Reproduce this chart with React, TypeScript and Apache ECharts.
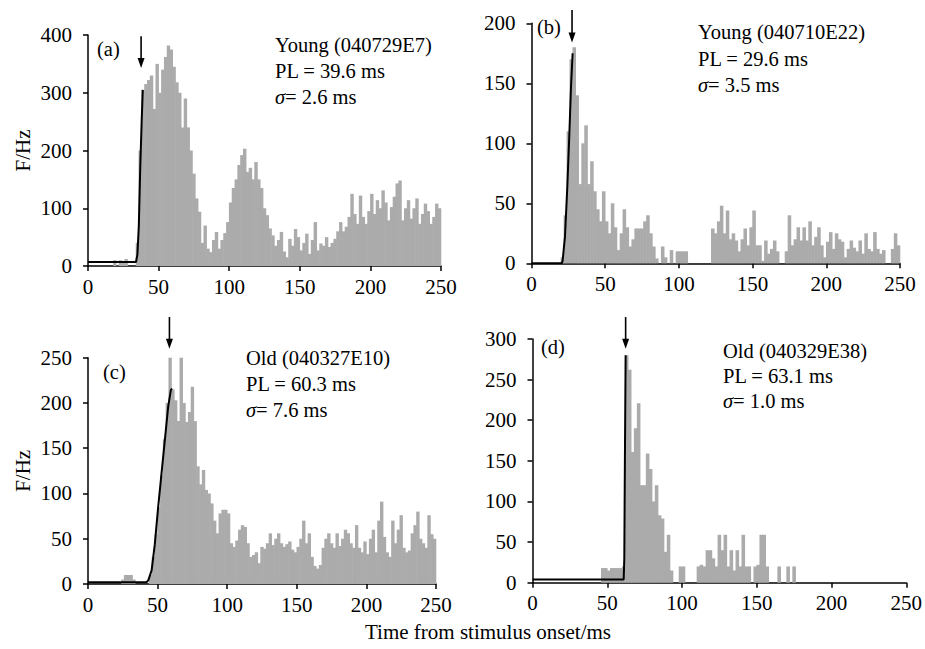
import { useEffect, useRef } from "react";
import * as echarts from "echarts";

const FONT = "Liberation Serif";
const BIN_MS = 2;
const X_MAX = 250;

// Histogram values (Hz), 2-ms bins starting at 0 ms
const histA = [
  0, 0, 0, 0, 0, 0, 0, 0, 0, 10,
  0, 10, 8, 12, 0, 0, 0, 40, 200, 305,
  315, 322, 330, 272, 350, 300, 340, 362, 382, 375,
  345, 318, 300, 240, 290, 240, 200, 160, 117, 94,
  40, 70, 30, 24, 45, 59, 30, 45, 57, 76,
  110, 135, 150, 175, 192, 203, 163, 170, 150, 180,
  150, 135, 100, 88, 65, 53, 35, 45, 59, 25,
  15, 47, 35, 64, 50, 27, 40, 56, 21, 45,
  76, 27, 39, 35, 50, 33, 40, 47, 60, 76,
  60, 68, 85, 125, 90, 73, 122, 85, 73, 95,
  125, 90, 114, 100, 131, 110, 79, 102, 120, 143,
  148, 79, 100, 114, 82, 100, 117, 73, 90, 108,
  95, 73, 85, 108, 100,
];
const histB = [
  0, 0, 0, 0, 0, 0, 0, 0, 0, 0,
  5, 40, 110, 170, 180, 140, 66, 100, 115, 66,
  85, 60, 45, 35, 60, 35, 25, 50, 30, 11,
  25, 45, 30, 14, 20, 29, 29, 29, 35, 40,
  25, 14, 4, 0, 14, 5, 0, 11, 0, 10,
  10, 10, 10, 0, 0, 0, 0, 0, 0, 0,
  0, 29, 25, 35, 48, 25, 44, 20, 25, 19,
  10, 20, 29, 15, 30, 44, 15, 15, 2, 19,
  8, 12, 19, 10, 0, 0, 10, 40, 15, 20,
  30, 19, 30, 19, 35, 15, 22, 30, 15, 5,
  18, 26, 12, 25, 20, 18, 5, 12, 19, 13,
  10, 19, 8, 25, 12, 10, 26, 12, 8, 11,
  0, 0, 12, 25, 15,
];
const histC = [
  0, 0, 0, 0, 0, 0, 0, 0, 0, 0,
  0, 0, 5, 10, 10, 10, 5, 0, 0, 0,
  0, 0, 10, 30, 55, 85, 120, 160, 200, 251,
  215, 203, 180, 251, 200, 179, 190, 218, 180, 130,
  110, 126, 104, 100, 89, 70, 56, 78, 82, 82,
  78, 45, 41, 48, 60, 65, 63, 45, 30, 32,
  35, 23, 41, 39, 45, 56, 43, 50, 56, 45,
  41, 44, 47, 38, 35, 41, 50, 70, 45, 56,
  30, 20, 17, 21, 40, 50, 56, 45, 40, 56,
  42, 50, 60, 56, 45, 40, 65, 40, 35, 47,
  33, 50, 60, 35, 70, 91, 52, 35, 30, 70,
  45, 60, 76, 40, 35, 37, 56, 65, 80, 50,
  45, 40, 76, 55, 50,
];
const histD = [
  0, 0, 0, 0, 0, 0, 0, 0, 0, 0,
  0, 0, 0, 0, 0, 0, 0, 0, 0, 0,
  0, 0, 0, 18, 18, 15, 18, 18, 18, 18,
  20, 280, 262, 161, 190, 221, 120, 120, 159, 140,
  100, 120, 83, 79, 38, 59, 15, 0, 0, 20,
  20, 0, 0, 0, 0, 20, 22, 20, 40, 40,
  30, 20, 59, 40, 59, 20, 40, 15, 40, 20,
  59, 20, 20, 0, 20, 22, 59, 59, 20, 0,
  0, 0, 20, 0, 0, 20, 0, 20, 0, 0,
  0, 0, 0, 0, 0, 0, 0, 0, 0, 0,
  0, 0, 0, 0, 0, 0, 0, 0, 0, 0,
  0, 0, 0, 0, 0, 0, 0, 0, 0, 0,
  0, 0, 0, 0, 0,
];

// Fitted onset curves [ms, Hz]
const curveA = [[0, 7], [34, 7], [35, 20], [36, 70], [37, 170], [38, 250], [38.8, 305]];
const curveB = [[0, 0], [20.5, 0], [21.1, 2], [22.7, 22], [24.3, 64], [25.6, 105], [26.8, 147], [27.9, 175]];
const curveC = [[0, 2], [42, 2], [43.3, 4], [45.7, 15], [48, 44], [50.4, 85], [52.8, 122], [55.2, 159], [57.6, 196], [59.5, 214], [60.3, 216]];
const curveD = [[0, 4], [61, 4], [61.4, 30], [61.8, 150], [62.3, 280]];

// Arrows: [ms, top Hz, tip Hz]
const arrowA = [37.6, 398, 343];
const arrowB = [27.5, 211, 184];
const arrowC = [58.5, 295, 260];
const arrowD = [62.3, 327, 288];

const yMaxes = [400, 200, 250, 300];
const yIntervals = [100, 50, 50, 50];
const xInterval = 50;

const panelLetters = ["(a)", "(b)", "(c)", "(d)"];
const groupLabels = ["Young (040729E7)", "Young (040710E22)", "Old (040327E10)", "Old (040329E38)"];
const plLabels = ["PL = 39.6 ms", "PL = 29.6 ms", "PL = 60.3 ms", "PL = 63.1 ms"];
const sigmaLabels = ["2.6 ms", "3.5 ms", "7.6 ms", "1.0 ms"];
const yTitle = "F/Hz";
const xTitle = "Time from stimulus onset/ms";

const hists = [histA, histB, histC, histD];
const curves = [curveA, curveB, curveC, curveD];
const arrows = [arrowA, arrowB, arrowC, arrowD];

// Layout (pixels)
const gridBoxes = [
  { left: 88, top: 35, width: 353, height: 231 },
  { left: 531.5, top: 23.3, width: 368.5, height: 240 },
  { left: 88, top: 357.7, width: 348, height: 226.3 },
  { left: 532.5, top: 339, width: 374, height: 243.7 },
];
const letterPos = [[97, 49], [537, 27], [103, 372], [541, 347]];
const annotPos = [[275, 45], [698, 32], [246, 358], [723, 351]];
const annotStep = [26, 26.5, 26, 25];

export default function App() {
  const ref = useRef<HTMLDivElement>(null);

  useEffect(() => {
    if (!ref.current) return;
    const chart = echarts.init(ref.current, undefined, { renderer: "svg" });

    const axisLine = { show: true, onZero: false, lineStyle: { color: "#000", width: 1.5 } };
    const axisTick = { show: true, length: 5, lineStyle: { color: "#000", width: 1.5 } };

    const series: any[] = [];
    hists.forEach((h, i) => {
      const bw = (gridBoxes[i].width / (X_MAX / BIN_MS)) + 0.6;
      series.push({
        type: "bar",
        xAxisIndex: i,
        yAxisIndex: i,
        barWidth: bw,
        itemStyle: { color: "#ababab" },
        data: h.map((v, k) => [k * BIN_MS + BIN_MS / 2, v]),
        silent: true,
      });
    });
    curves.forEach((c, i) => {
      series.push({
        type: "line",
        xAxisIndex: i,
        yAxisIndex: i,
        data: c,
        symbol: "none",
        lineStyle: { color: "#000", width: 2 },
        silent: true,
        z: 5,
      });
    });

    const option: any = {
      animation: false,
      textStyle: { fontFamily: FONT, color: "#000" },
      grid: gridBoxes.map((g) => ({ ...g, containLabel: false })),
      xAxis: gridBoxes.map((_, i) => ({
        type: "value",
        gridIndex: i,
        min: 0,
        max: X_MAX,
        interval: xInterval,
        axisLine,
        axisTick,
        axisLabel: { color: "#000", fontSize: 21, fontFamily: FONT, margin: 10 },
        splitLine: { show: false },
      })),
      yAxis: gridBoxes.map((_, i) => ({
        type: "value",
        gridIndex: i,
        min: 0,
        max: yMaxes[i],
        interval: yIntervals[i],
        axisLine,
        axisTick,
        axisLabel: { color: "#000", fontSize: 21, fontFamily: FONT, margin: 16 },
        splitLine: { show: false },
        name: i % 2 === 0 ? yTitle : "",
        nameLocation: "middle",
        nameGap: 55,
        nameTextStyle: { color: "#000", fontSize: 21, fontFamily: FONT },
      })),
      series,
    };
    chart.setOption(option);

    const graphic: any[] = [];
    arrows.forEach((a, i) => {
      const p1 = chart.convertToPixel({ gridIndex: i } as any, [a[0], a[1]]) as number[];
      const p2 = chart.convertToPixel({ gridIndex: i } as any, [a[0], a[2]]) as number[];
      graphic.push({
        type: "line",
        shape: { x1: p1[0], y1: p1[1], x2: p2[0], y2: p2[1] - 6 },
        style: { stroke: "#000", lineWidth: 1.6 },
        z: 10,
      });
      graphic.push({
        type: "polygon",
        shape: { points: [[p2[0] - 3.5, p2[1] - 10], [p2[0] + 3.5, p2[1] - 10], [p2[0], p2[1]]] },
        style: { fill: "#000" },
        z: 10,
      });
    });
    panelLetters.forEach((t, i) => {
      graphic.push({
        type: "text",
        x: letterPos[i][0],
        y: letterPos[i][1],
        style: { text: t, fill: "#000", fontSize: 20.5, fontFamily: FONT, align: "left", verticalAlign: "middle" },
      });
    });
    groupLabels.forEach((t, i) => {
      const [x, y] = annotPos[i];
      const s = annotStep[i];
      [t, plLabels[i]].forEach((ln, k) => {
        graphic.push({
          type: "text",
          x,
          y: y + k * s,
          style: { text: ln, fill: "#000", fontSize: 20.5, fontFamily: FONT, align: "left", verticalAlign: "middle" },
        });
      });
      graphic.push({
        type: "text",
        x,
        y: y + 2 * s,
        style: {
          text: "{s|σ}= " + sigmaLabels[i],
          fill: "#000",
          fontSize: 20.5,
          fontFamily: FONT,
          align: "left",
          verticalAlign: "middle",
          rich: { s: { fontStyle: "italic", fontSize: 20.5, fontFamily: FONT, fill: "#000" } },
        },
      });
    });
    graphic.push({
      type: "text",
      x: 488,
      y: 632,
      style: { text: xTitle, fill: "#000", fontSize: 21, fontFamily: FONT, align: "center", verticalAlign: "middle" },
    });
    chart.setOption({ graphic });

    return () => chart.dispose();
  }, []);

  return (
    <div
      ref={ref}
      style={{ position: "absolute", left: 0, top: 0, width: 925, height: 649, background: "#fff" }}
    />
  );
}
